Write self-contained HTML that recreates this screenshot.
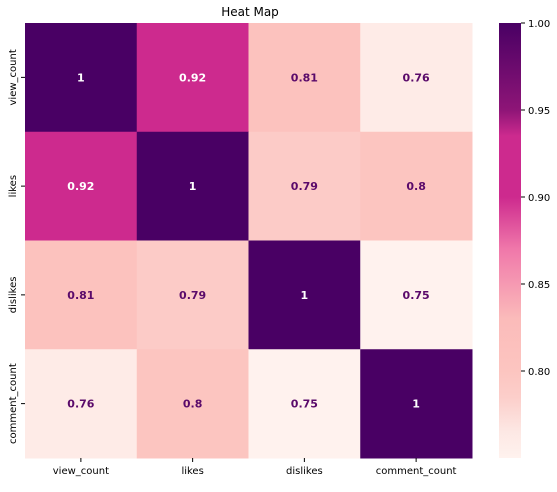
<!DOCTYPE html>
<html><head><meta charset="utf-8"><style>
body{margin:0;background:#fff;width:557px;height:487px;overflow:hidden;font-family:"Liberation Sans","DejaVu Sans",sans-serif;}
text{font-family:"DejaVu Sans","Liberation Sans",sans-serif;}
</style></head><body>
<svg id="chart" width="557" height="487" xmlns="http://www.w3.org/2000/svg">
<defs>
<linearGradient id="cbgrad" x1="0" y1="1" x2="0" y2="0"></linearGradient>
</defs>
<text x="250" y="16" font-size="12" text-anchor="middle" fill="#000">Heat Map</text>
<g id="cells"></g>
<g id="axes"></g>
<g id="cbar"></g>
</svg>
<script>
const labels = ["view_count","likes","dislikes","comment_count"];
const row0 = [1, 0.92, 0.81, 0.76];
const row1 = [0.92, 1, 0.79, 0.8];
const row2 = [0.81, 0.79, 1, 0.75];
const row3 = [0.76, 0.8, 0.75, 1];
const cbTicks = [0.80, 0.85, 0.90, 0.95, 1.00];
const vmin = 0.75, vmax = 1.0;

const rows = [row0,row1,row2,row3];
const X0=25, X1=472, Y0=23, Y1=458;
const n = labels.length;
const cw=(X1-X0)/n, ch=(Y1-Y0)/n;
const xPos = i => X0 + i*cw;
const yPos = i => Y0 + i*ch;
const stops=[[0.75,[255,242,238]],[0.765,[253,232,228]],[0.785,[252,206,202]],[0.80,[252,197,192]],[0.83,[251,187,186]],[0.87,[240,120,170]],[0.90,[205,42,142]],[0.935,[205,42,142]],[0.95,[142,21,119]],[1.0,[73,0,100]]];
function color(v){
  if(v<=stops[0][0]) return 'rgb('+stops[0][1]+')';
  for(let i=1;i<stops.length;i++){ if(v<=stops[i][0]){const a=stops[i-1],b=stops[i];const t=(v-a[0])/(b[0]-a[0]);return 'rgb('+a[1].map((c,k)=>Math.round(c+(b[1][k]-c)*t)).join(',')+')';}}
  return 'rgb('+stops[stops.length-1][1]+')';
}
const NS="http://www.w3.org/2000/svg";
function mk(tag,attrs,parent){const e=document.createElementNS(NS,tag);for(const k in attrs)e.setAttribute(k,attrs[k]);parent.appendChild(e);return e;}
const cells=document.getElementById('cells');
rows.forEach((r,i)=>r.forEach((v,j)=>{
  const rc=mk('rect',{x:xPos(j),y:yPos(i),width:cw+0.5,height:ch+0.5,fill:color(v)},cells);
  
  
  const t=mk('text',{x:xPos(j)+cw/2,y:yPos(i)+ch/2+4,'font-size':11,'font-weight':'bold','text-anchor':'middle',fill:v>0.88?'#fff':'#5a0a6a'},cells);
  t.textContent=String(v);
  
  
}));
const axes=document.getElementById('axes');
labels.forEach((l,i)=>{
  const cx=xPos(i)+cw/2;
  mk('line',{x1:cx,y1:Y1,x2:cx,y2:Y1+4,stroke:'#000'},axes);
  const t=mk('text',{x:cx,y:Y1+16,'font-size':10,'text-anchor':'middle',fill:'#000'},axes);
  t.textContent=l;
  
  
  const cy=yPos(i)+ch/2;
  mk('line',{x1:X0-4,y1:cy,x2:X0,y2:cy,stroke:'#000'},axes);
  const ty=mk('text',{x:16,y:cy,'font-size':10,'text-anchor':'middle',fill:'#000',transform:'rotate(-90 16 '+cy+')'},axes);
  ty.textContent=l;
  
  
});
const cb=document.getElementById('cbar');
const CBX=499,CBW=22,CBY0=23,CBY1=458;
const cy=v=>CBY1-(v-vmin)/(vmax-vmin)*(CBY1-CBY0);
const g=document.getElementById('cbgrad');
stops.forEach(s=>mk('stop',{offset:((s[0]-vmin)/(vmax-vmin)),'stop-color':'rgb('+s[1]+')'},g));
const bar=mk('rect',{x:CBX,y:CBY0,width:CBW,height:CBY1-CBY0,fill:'url(#cbgrad)'},cb);


cbTicks.forEach(v=>{
  const y=cy(v);
  mk('line',{x1:CBX+CBW,y1:y,x2:CBX+CBW+4,y2:y,stroke:'#000'},cb);
  const t=mk('text',{x:CBX+CBW+7,y:y+4,'font-size':10,fill:'#000'},cb);
  t.textContent=v.toFixed(2);
  
  
});
</script>
</body></html>
